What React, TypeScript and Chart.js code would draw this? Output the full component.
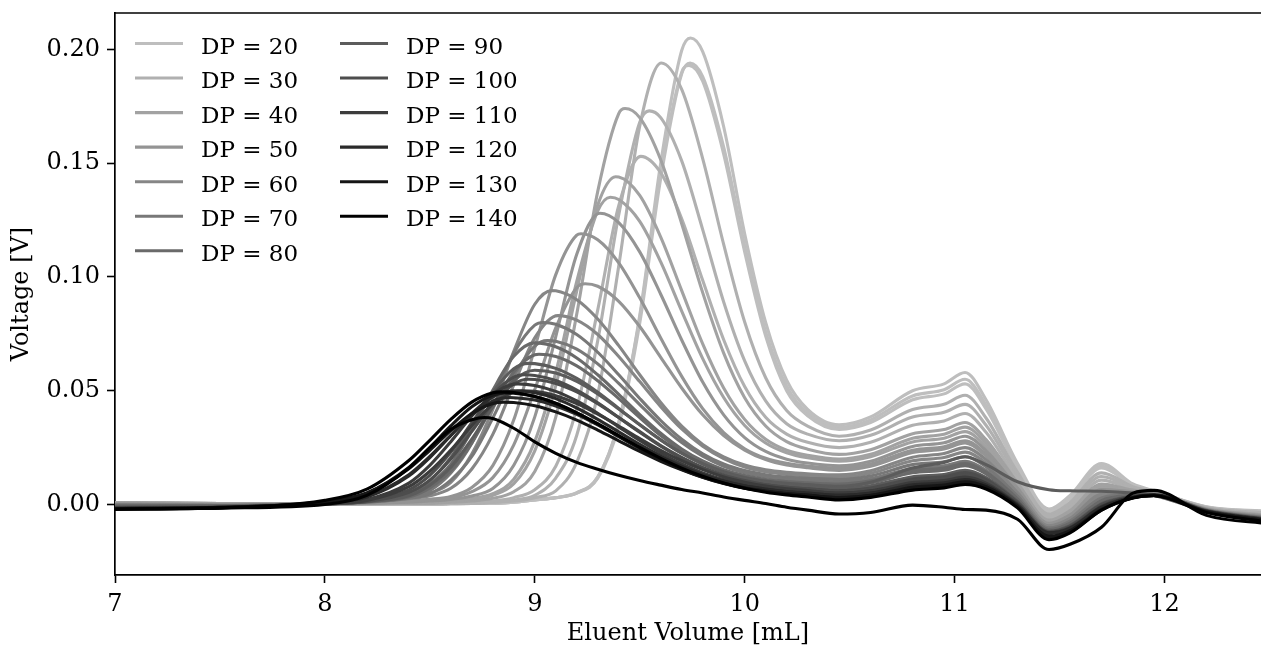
import React, { useEffect, useRef } from 'react';
import { Chart, registerables } from 'chart.js';

Chart.register(...registerables);

// Eluent volume grid (mL) shared by all traces
const volume = [7.0, 7.5, 8.0, 8.2, 8.4, 8.5, 8.6, 8.7, 8.8, 8.9, 9.0, 9.1, 9.2, 9.3, 9.4, 9.5, 9.6, 9.7, 9.8, 9.9, 10.0, 10.1, 10.2, 10.3, 10.45, 10.6, 10.8, 10.95, 11.05, 11.15, 11.3, 11.45, 11.55, 11.7, 11.85, 11.95, 12.2, 12.5];

// Legend entries and their grey level (0-255)
const dpLevels = [20, 30, 40, 50, 60, 70, 80, 90, 100, 110, 120, 130, 140];
const dpGray = [190, 176, 162, 148, 134, 120, 106, 92, 77, 60, 42, 22, 0];

// Which DP each trace belongs to
const traceDP = [20, 20, 20, 30, 30, 30, 40, 40, 40, 50, 50, 50, 60, 60, 70, 70, 80, 80, 90, 90, 100, 100, 110, 110, 120, 120, 130, 130, 140, 140];

// Main peak of each trace (volume, voltage)
const peakVolume = [9.742, 9.74, 9.735, 9.603, 9.545, 9.505, 9.43, 9.385, 9.36, 9.31, 9.22, 9.24, 9.08, 9.11, 9.04, 9.06, 9.0, 9.02, 8.97, 9.0, 8.95, 8.97, 8.92, 8.94, 8.9, 8.88, 8.86, 8.85, 8.84, 8.76];
const peakVoltage = [0.205, 0.194, 0.193, 0.194, 0.173, 0.153, 0.174, 0.144, 0.135, 0.128, 0.119, 0.097, 0.094, 0.083, 0.080, 0.072, 0.071, 0.066, 0.062, 0.059, 0.057, 0.055, 0.053, 0.050, 0.050, 0.047, 0.049, 0.045, 0.0495, 0.0382];

// Voltage traces (V) on the volume grid
const dp20a = [0.0008, 0.0004, 0.0002, 0.0002, 0.0002, 0.0002, 0.0003, 0.0004, 0.0005, 0.001, 0.002, 0.003, 0.005, 0.012, 0.036, 0.083, 0.150, 0.1995, 0.199, 0.166, 0.119, 0.080, 0.0546, 0.0418, 0.035, 0.0385, 0.050, 0.053, 0.058, 0.046, 0.018, -0.002, 0.004, 0.018, 0.009, 0.006, -0.001, -0.003];
const dp20b = [0.0008, 0.0004, 0.0002, 0.0002, 0.0002, 0.0002, 0.0003, 0.0004, 0.0005, 0.001, 0.002, 0.003, 0.005, 0.0115, 0.0346, 0.0797, 0.1434, 0.1893, 0.188, 0.157, 0.1137, 0.0759, 0.052, 0.0402, 0.034, 0.0372, 0.0477, 0.0504, 0.055, 0.0437, 0.0169, -0.0027, 0.0031, 0.0168, 0.0086, 0.0059, -0.0011, -0.0032];
const dp20c = [0.0008, 0.0004, 0.0002, 0.0002, 0.0002, 0.0002, 0.0003, 0.0004, 0.0005, 0.001, 0.002, 0.003, 0.0052, 0.012, 0.036, 0.082, 0.146, 0.190, 0.186, 0.154, 0.111, 0.074, 0.050, 0.039, 0.033, 0.036, 0.046, 0.0486, 0.053, 0.042, 0.016, -0.0031, 0.0025, 0.016, 0.0084, 0.0058, -0.0012, -0.0034];
const dp30a = [0.0008, 0.0004, 0.0003, 0.0003, 0.0003, 0.0003, 0.0004, 0.0005, 0.001, 0.0015, 0.003, 0.006, 0.0185, 0.0483, 0.1048, 0.1663, 0.194, 0.1824, 0.152, 0.1143, 0.0802, 0.0557, 0.0413, 0.0344, 0.030, 0.0327, 0.0417, 0.044, 0.048, 0.038, 0.0141, -0.0042, 0.0009, 0.0139, 0.0078, 0.0056, -0.0014, -0.0038];
const dp30b = [0.0008, 0.0004, 0.0003, 0.0003, 0.0003, 0.0003, 0.0004, 0.0005, 0.001, 0.002, 0.004, 0.0116, 0.0304, 0.072, 0.1273, 0.168, 0.170, 0.151, 0.1208, 0.089, 0.0631, 0.0455, 0.0355, 0.0309, 0.028, 0.0304, 0.0384, 0.0405, 0.044, 0.0348, 0.0126, -0.0051, -0.0003, 0.0123, 0.0073, 0.0054, -0.0016, -0.0041];
const dp30c = [0.0008, 0.0004, 0.0003, 0.0003, 0.0003, 0.0003, 0.0005, 0.001, 0.0015, 0.003, 0.0065, 0.0168, 0.0422, 0.0855, 0.1313, 0.153, 0.1458, 0.1255, 0.0985, 0.0724, 0.0518, 0.0383, 0.0309, 0.0273, 0.025, 0.0273, 0.0348, 0.0367, 0.040, 0.0317, 0.011, -0.006, -0.0015, 0.0107, 0.0068, 0.0053, -0.0017, -0.0045];
const dp40a = [0.0008, 0.0004, 0.0003, 0.0003, 0.0004, 0.0005, 0.001, 0.0015, 0.0027, 0.0056, 0.0145, 0.0384, 0.0837, 0.1376, 0.1718, 0.170, 0.1515, 0.1234, 0.0931, 0.0665, 0.0469, 0.0345, 0.0276, 0.0243, 0.022, 0.0241, 0.0311, 0.0329, 0.036, 0.0285, 0.0095, -0.0069, -0.0027, 0.009, 0.0063, 0.0051, -0.0019, -0.0048];
const dp40b = [0.0006, 0.0003, 0.0003, 0.0004, 0.0005, 0.001, 0.0015, 0.0024, 0.004, 0.0091, 0.0236, 0.0522, 0.0939, 0.1316, 0.1439, 0.1358, 0.1175, 0.094, 0.0706, 0.0512, 0.0374, 0.0287, 0.0239, 0.0216, 0.020, 0.0221, 0.0291, 0.0309, 0.034, 0.0269, 0.0087, -0.0074, -0.0033, 0.0082, 0.0061, 0.005, -0.002, -0.005];
const dp40c = [0.0006, 0.0003, 0.0003, 0.0004, 0.0006, 0.0012, 0.002, 0.0026, 0.0047, 0.0111, 0.0277, 0.058, 0.098, 0.129, 0.134, 0.1244, 0.1066, 0.085, 0.0641, 0.047, 0.0347, 0.027, 0.0227, 0.0205, 0.019, 0.021, 0.0275, 0.0291, 0.032, 0.0253, 0.0079, -0.0078, -0.004, 0.0074, 0.0058, 0.0049, -0.0021, -0.0051];
const dp50a = [0.0003, 0.0, 0.0003, 0.0005, 0.001, 0.0015, 0.0022, 0.0037, 0.007, 0.0172, 0.0385, 0.0738, 0.110, 0.128, 0.1239, 0.111, 0.0924, 0.0723, 0.0538, 0.0394, 0.0294, 0.0233, 0.0199, 0.0182, 0.017, 0.019, 0.0255, 0.0271, 0.030, 0.0237, 0.0072, -0.0083, -0.0046, 0.0066, 0.0056, 0.0049, -0.0021, -0.0053];
const dp50b = [0.0002, -0.0002, 0.0003, 0.0007, 0.0015, 0.0023, 0.0035, 0.0075, 0.0171, 0.0372, 0.0688, 0.101, 0.1184, 0.1163, 0.1062, 0.0908, 0.0732, 0.0563, 0.0421, 0.0316, 0.0245, 0.0203, 0.0181, 0.0169, 0.016, 0.0178, 0.0238, 0.0254, 0.028, 0.0221, 0.0064, -0.0087, -0.0052, 0.0058, 0.0053, 0.0048, -0.0022, -0.0054];
const dp50c = [0.0002, -0.0002, 0.0003, 0.0007, 0.0013, 0.0022, 0.0029, 0.0056, 0.0118, 0.0262, 0.0505, 0.0776, 0.0953, 0.0959, 0.0893, 0.0782, 0.0647, 0.0512, 0.0394, 0.0303, 0.0239, 0.0197, 0.0173, 0.0161, 0.015, 0.0168, 0.0228, 0.0244, 0.027, 0.0213, 0.006, -0.009, -0.0055, 0.0053, 0.0052, 0.0047, -0.0023, -0.0055];
const dp60a = [0.0, -0.0004, 0.0005, 0.001, 0.0028, 0.0049, 0.0097, 0.0222, 0.0418, 0.0673, 0.088, 0.0939, 0.090, 0.0815, 0.0698, 0.057, 0.0448, 0.0344, 0.0264, 0.0209, 0.0173, 0.0152, 0.0141, 0.0135, 0.013, 0.0148, 0.0208, 0.0224, 0.025, 0.0197, 0.0052, -0.0094, -0.0061, 0.0045, 0.005, 0.0047, -0.0023, -0.0057];
const dp60b = [0.0, -0.0004, 0.0004, 0.0009, 0.0025, 0.0038, 0.0071, 0.0156, 0.0308, 0.0526, 0.0732, 0.083, 0.081, 0.0747, 0.065, 0.054, 0.043, 0.0332, 0.0256, 0.0202, 0.0165, 0.0144, 0.0132, 0.0125, 0.012, 0.0137, 0.0192, 0.0206, 0.023, 0.0182, 0.0044, -0.0099, -0.0067, 0.0037, 0.0047, 0.0046, -0.0024, -0.0059];
const dp70a = [-0.0003, -0.0005, 0.0004, 0.0011, 0.0032, 0.0061, 0.0138, 0.0269, 0.0464, 0.0665, 0.0788, 0.0792, 0.0747, 0.0669, 0.057, 0.0466, 0.0369, 0.0287, 0.0223, 0.0178, 0.0149, 0.0131, 0.012, 0.0115, 0.011, 0.0125, 0.0175, 0.0188, 0.021, 0.0166, 0.0037, -0.0103, -0.0073, 0.0029, 0.0045, 0.0045, -0.0025, -0.006];
const dp70b = [-0.0003, -0.0005, 0.0004, 0.001, 0.0027, 0.0047, 0.0107, 0.0211, 0.038, 0.0565, 0.0696, 0.0717, 0.0683, 0.0618, 0.0532, 0.0439, 0.0349, 0.0272, 0.0212, 0.0168, 0.0139, 0.0121, 0.0111, 0.0105, 0.010, 0.0114, 0.0159, 0.017, 0.019, 0.015, 0.0029, -0.0108, -0.0079, 0.0021, 0.0042, 0.0044, -0.0026, -0.0062];
const dp80a = [-0.0006, -0.0006, 0.0003, 0.0013, 0.0041, 0.0091, 0.0177, 0.0325, 0.0502, 0.0651, 0.071, 0.0693, 0.0644, 0.057, 0.0484, 0.0395, 0.0313, 0.0244, 0.0191, 0.0153, 0.0127, 0.011, 0.0101, 0.0095, 0.009, 0.0104, 0.0149, 0.016, 0.018, 0.0142, 0.0025, -0.011, -0.0082, 0.0017, 0.0041, 0.0044, -0.0026, -0.0063];
const dp80b = [-0.0006, -0.0006, 0.0003, 0.0012, 0.0033, 0.0073, 0.0148, 0.0271, 0.0434, 0.0582, 0.0658, 0.065, 0.0609, 0.0544, 0.0465, 0.0382, 0.0303, 0.0237, 0.0183, 0.0144, 0.0118, 0.0101, 0.0091, 0.0086, 0.008, 0.0094, 0.0139, 0.015, 0.017, 0.0134, 0.0021, -0.0112, -0.0086, 0.0013, 0.004, 0.0043, -0.0027, -0.0063];
const dp90a = [-0.001, -0.0008, 0.0002, 0.0013, 0.0051, 0.0106, 0.0207, 0.0346, 0.0492, 0.0596, 0.0619, 0.0598, 0.0554, 0.0493, 0.0422, 0.035, 0.0283, 0.0225, 0.0179, 0.0144, 0.0119, 0.0103, 0.0093, 0.0087, 0.008, 0.0098, 0.016, 0.0185, 0.021, 0.0175, 0.010, 0.0065, 0.006, 0.0058, 0.005, 0.004, -0.003, -0.0075];
const dp90b = [-0.0012, -0.001, 0.0002, 0.0012, 0.0038, 0.0085, 0.0164, 0.0287, 0.0428, 0.0545, 0.059, 0.0578, 0.0541, 0.0486, 0.042, 0.0351, 0.0284, 0.0225, 0.0177, 0.014, 0.0114, 0.0097, 0.0085, 0.0078, 0.007, 0.0082, 0.0122, 0.0132, 0.015, 0.0118, 0.0013, -0.0117, -0.0092, 0.0004, 0.0037, 0.0042, -0.0028, -0.0065];
const dp100a = [-0.0015, -0.0012, 0.0003, 0.0015, 0.0064, 0.0128, 0.023, 0.0359, 0.0483, 0.056, 0.0567, 0.0545, 0.0503, 0.0447, 0.0382, 0.0317, 0.0256, 0.0203, 0.0159, 0.0126, 0.0102, 0.0086, 0.0075, 0.0068, 0.006, 0.0072, 0.0112, 0.0122, 0.014, 0.011, 0.0009, -0.0119, -0.0095, 0.0, 0.0036, 0.0042, -0.0028, -0.0066];
const dp100b = [-0.0015, -0.0012, 0.0002, 0.0013, 0.0053, 0.0107, 0.020, 0.0321, 0.0444, 0.053, 0.0549, 0.0532, 0.0495, 0.0443, 0.0382, 0.032, 0.0259, 0.0207, 0.0163, 0.0129, 0.0105, 0.0087, 0.0076, 0.0069, 0.006, 0.007, 0.0106, 0.0115, 0.013, 0.0102, 0.0006, -0.0121, -0.0098, -0.0004, 0.0035, 0.0042, -0.0029, -0.0067];
const dp110a = [-0.0016, -0.0012, 0.0005, 0.0022, 0.0094, 0.0172, 0.0276, 0.0389, 0.0483, 0.0529, 0.0523, 0.0497, 0.0455, 0.0401, 0.0341, 0.0281, 0.0226, 0.0178, 0.0139, 0.011, 0.0088, 0.0074, 0.0064, 0.0058, 0.005, 0.006, 0.0096, 0.0105, 0.012, 0.0094, 0.0002, -0.0123, -0.0101, -0.0008, 0.0034, 0.0041, -0.0029, -0.0068];
const dp110b = [-0.0016, -0.0012, 0.0004, 0.0018, 0.0078, 0.0146, 0.0239, 0.0347, 0.0441, 0.0495, 0.0497, 0.0478, 0.0443, 0.0397, 0.0345, 0.029, 0.0238, 0.0192, 0.0153, 0.0121, 0.0098, 0.0081, 0.0069, 0.0061, 0.005, 0.0059, 0.0089, 0.0097, 0.011, 0.0086, -0.0002, -0.0125, -0.0104, -0.0012, 0.0032, 0.0041, -0.003, -0.0069];
const dp120a = [-0.0018, -0.0013, 0.0008, 0.0033, 0.0125, 0.0206, 0.0303, 0.040, 0.0473, 0.050, 0.0491, 0.0465, 0.0424, 0.0374, 0.0319, 0.0264, 0.0213, 0.0168, 0.0131, 0.0102, 0.0081, 0.0066, 0.0056, 0.0049, 0.004, 0.005, 0.0086, 0.0095, 0.011, 0.0086, -0.0002, -0.0125, -0.0104, -0.0012, 0.0032, 0.0041, -0.003, -0.0069];
const dp120b = [-0.0018, -0.0013, 0.0008, 0.0036, 0.0131, 0.0211, 0.0304, 0.0392, 0.0454, 0.0469, 0.0459, 0.0433, 0.0396, 0.035, 0.0301, 0.0251, 0.0205, 0.0164, 0.013, 0.0103, 0.0082, 0.0068, 0.0057, 0.005, 0.004, 0.0049, 0.0079, 0.0087, 0.010, 0.0078, -0.0006, -0.0128, -0.0107, -0.0016, 0.0031, 0.004, -0.003, -0.007];
const dp130a = [-0.0019, -0.0014, 0.0012, 0.0051, 0.0163, 0.025, 0.0345, 0.0429, 0.0481, 0.0489, 0.0474, 0.0444, 0.0402, 0.0352, 0.0298, 0.0246, 0.0197, 0.0155, 0.012, 0.0092, 0.0071, 0.0057, 0.0047, 0.004, 0.003, 0.004, 0.0076, 0.0085, 0.010, 0.0078, -0.0008, -0.015, -0.0122, -0.0025, 0.003, 0.004, -0.0032, -0.0072];
const dp130b = [-0.0019, -0.0014, 0.0013, 0.005, 0.0157, 0.0238, 0.0325, 0.040, 0.0444, 0.0448, 0.0434, 0.0407, 0.0371, 0.0327, 0.028, 0.0233, 0.019, 0.0152, 0.0119, 0.0093, 0.0073, 0.0059, 0.0048, 0.0041, 0.003, 0.0039, 0.0069, 0.0077, 0.009, 0.0072, -0.001, -0.014, -0.0115, -0.0022, 0.003, 0.004, -0.0032, -0.0072];
const dp140a = [-0.002, -0.0015, 0.0018, 0.0067, 0.0193, 0.0282, 0.0374, 0.045, 0.0491, 0.0492, 0.0475, 0.0445, 0.0403, 0.0355, 0.0303, 0.0251, 0.0203, 0.016, 0.0124, 0.0094, 0.0071, 0.0054, 0.0042, 0.0033, 0.002, 0.0031, 0.0063, 0.0073, 0.0088, 0.0068, -0.0015, -0.0155, -0.0125, -0.0025, 0.0028, 0.0038, -0.0035, -0.0078];
const dp140b = [-0.0022, -0.0016, 0.0, 0.004, 0.016, 0.025, 0.033, 0.0372, 0.0378, 0.0335, 0.0275, 0.0225, 0.0185, 0.0155, 0.0128, 0.0105, 0.0085, 0.0066, 0.005, 0.0033, 0.0018, 0.0004, -0.0012, -0.0025, -0.0042, -0.0035, -0.0003, -0.0012, -0.0022, -0.0025, -0.0065, -0.0198, -0.0175, -0.010, 0.005, 0.0062, -0.0048, -0.0085];

const traces = [dp20a, dp20b, dp20c, dp30a, dp30b, dp30c, dp40a, dp40b, dp40c, dp50a, dp50b, dp50c, dp60a, dp60b, dp70a, dp70b, dp80a, dp80b, dp90a, dp90b, dp100a, dp100b, dp110a, dp110b, dp120a, dp120b, dp130a, dp130b, dp140a, dp140b];

const FONT_FAMILY = "'DejaVu Serif', serif";
const AXIS_FONT_SIZE = 24;
const LEGEND_FONT_SIZE = 23;
const LINE_WIDTH = 3.1;

function grayOf(dp: number): string {
  const v = dpGray[dpLevels.indexOf(dp)];
  return `rgb(${v},${v},${v})`;
}

function buildPoints(values: number[], px: number, py: number) {
  const pts = volume
    .map((x, i) => ({ x, y: values[i] }))
    .filter((p) => Math.abs(p.x - px) >= 0.012);
  pts.push({ x: px, y: py });
  pts.sort((a, b) => a.x - b.x);
  return pts;
}

const spinePlugin = {
  id: 'spines',
  afterDatasetsDraw(chart: any) {
    const { ctx, chartArea } = chart;
    ctx.save();
    ctx.strokeStyle = '#000';
    ctx.lineWidth = 1.7;
    ctx.beginPath();
    ctx.moveTo(chartArea.left, chartArea.top);
    ctx.lineTo(chartArea.right, chartArea.top);
    ctx.stroke();
    ctx.restore();
  },
};

const legendPlugin = {
  id: 'dpLegend',
  afterDraw(chart: any) {
    const { ctx, chartArea } = chart;
    ctx.save();
    ctx.font = `${LEGEND_FONT_SIZE}px ${FONT_FAMILY}`;
    ctx.textBaseline = 'alphabetic';
    ctx.textAlign = 'left';
    dpLevels.forEach((dp, i) => {
      const col = i < 7 ? 0 : 1;
      const row = i < 7 ? i : i - 7;
      const x0 = chartArea.left + 20 + col * 205;
      const y = chartArea.top + 30.5 + row * 34.55;
      ctx.strokeStyle = grayOf(dp);
      ctx.lineWidth = LINE_WIDTH;
      ctx.lineCap = 'butt';
      ctx.beginPath();
      ctx.moveTo(x0, y);
      ctx.lineTo(x0 + 48, y);
      ctx.stroke();
      ctx.fillStyle = '#000';
      ctx.fillText(`DP = ${dp}`, x0 + 66, y + 10);
    });
    ctx.restore();
  },
};

export default function App() {
  const ref = useRef<HTMLCanvasElement>(null);

  useEffect(() => {
    document.body.style.margin = '0';
    document.body.style.overflow = 'hidden';
    const canvas = ref.current;
    if (!canvas) return;

    const datasets = traces.map((vals, k) => ({
      label: `DP = ${traceDP[k]}`,
      data: buildPoints(vals, peakVolume[k], peakVoltage[k]),
      borderColor: grayOf(traceDP[k]),
      backgroundColor: grayOf(traceDP[k]),
      borderWidth: LINE_WIDTH,
      pointRadius: 0,
      fill: false,
      order: traces.length - k,
    }));

    const font = { family: FONT_FAMILY, size: AXIS_FONT_SIZE };

    const chart = new Chart(canvas, {
      type: 'line',
      data: { datasets },
      options: {
        animation: false,
        responsive: false,
        devicePixelRatio: 1,
        layout: { padding: { top: 13, left: 0, right: 0, bottom: 0 } },
        elements: {
          point: { radius: 0 },
          line: { cubicInterpolationMode: 'monotone', borderJoinStyle: 'round', borderCapStyle: 'butt' },
        },
        plugins: { legend: { display: false }, tooltip: { enabled: false } },
        scales: {
          x: {
            type: 'linear',
            min: 7,
            max: 12.46,
            ticks: { stepSize: 1, includeBounds: false, font, color: '#000', padding: 7, maxRotation: 0 },
            grid: { display: true, drawOnChartArea: false, drawTicks: true, tickLength: 8, tickWidth: 1.6, tickColor: '#000' },
            border: { display: true, color: '#000', width: 1.7 },
            title: { display: true, text: 'Eluent Volume [mL]', font, color: '#000', padding: { top: 0, bottom: -2 } },
            afterFit: (s: any) => {
              s.height = 71;
              s.paddingLeft = 0;
              s.paddingRight = 0;
            },
          },
          y: {
            type: 'linear',
            min: -0.031,
            max: 0.216,
            ticks: {
              stepSize: 0.05,
              includeBounds: false,
              font,
              color: '#000',
              padding: 7,
              callback: (v: any) => (Math.abs(Number(v)) < 1e-9 ? '0.00' : Number(v).toFixed(2)),
            },
            grid: { display: true, drawOnChartArea: false, drawTicks: true, tickLength: 8, tickWidth: 1.6, tickColor: '#000' },
            border: { display: true, color: '#000', width: 1.7 },
            title: { display: true, text: 'Voltage [V]', font, color: '#000', padding: { top: 7, bottom: 0 } },
            afterFit: (s: any) => {
              s.width = 115;
              s.paddingTop = 0;
              s.paddingBottom = 0;
            },
          },
        },
      },
      plugins: [spinePlugin, legendPlugin],
    } as any);

    return () => chart.destroy();
  }, []);

  return (
    <div style={{ position: 'fixed', left: 0, top: 0, width: 1261, height: 646, overflow: 'hidden', background: '#fff' }}>
      <canvas ref={ref} width={1261} height={646} style={{ display: 'block', width: '1261px', height: '646px' }} />
    </div>
  );
}
